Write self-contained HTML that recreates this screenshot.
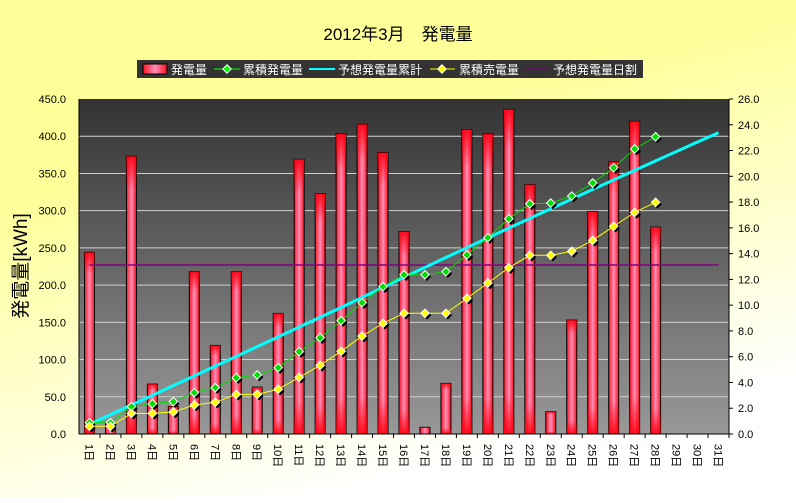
<!DOCTYPE html>
<html><head><meta charset="utf-8">
<style>
html,body{margin:0;padding:0;}
body{width:796px;height:498px;overflow:hidden;font-family:"Liberation Sans","Noto Sans CJK JP",sans-serif;}
</style></head>
<body>
<svg id="chart" width="796" height="498" xmlns="http://www.w3.org/2000/svg" style="font-family:'Liberation Sans','Noto Sans CJK JP',sans-serif">
<defs>
<linearGradient id="bgG" x1="0" y1="0" x2="0.4" y2="1">
<stop offset="0" stop-color="#ffff99"/><stop offset="0.35" stop-color="#ffff99"/><stop offset="1" stop-color="#ffffff"/>
</linearGradient>
<linearGradient id="plotG" x1="0" y1="0" x2="0" y2="1">
<stop offset="0" stop-color="#333333"/><stop offset="1" stop-color="#999999"/>
</linearGradient>
<linearGradient id="barG" x1="0" y1="0" x2="1" y2="0">
<stop offset="0" stop-color="#ff1020"/><stop offset="0.5" stop-color="#ff90b8"/><stop offset="1" stop-color="#ff1020"/>
</linearGradient>
<linearGradient id="barV" x1="0" y1="0" x2="0" y2="1">
<stop offset="0" stop-color="#ff0010" stop-opacity="0.9"/><stop offset="0.12" stop-color="#ff0010" stop-opacity="0"/><stop offset="0.88" stop-color="#ff0010" stop-opacity="0"/><stop offset="1" stop-color="#ff0010" stop-opacity="0.9"/>
</linearGradient>
</defs>
<rect x="0" y="0" width="796" height="498" fill="url(#bgG)"/>
<text x="398" y="40" text-anchor="middle" font-size="17" fill="#000">2012年3月　発電量</text>
<g>
<rect x="137" y="60" width="506" height="18" fill="#333"/>
<rect x="143" y="64" width="24" height="10" fill="url(#barG)" stroke="#000"/>
<text x="171" y="74" font-size="12" fill="#fff">発電量</text>
<line x1="214" y1="69" x2="240" y2="69" stroke="#00ff00"/><rect x="224" y="66" width="6" height="6" fill="#00ff00" stroke="#fff" transform="rotate(45 227 69)"/>
<text x="243" y="74" font-size="12" fill="#fff">累積発電量</text>
<line x1="309" y1="69" x2="335" y2="69" stroke="#00ffff" stroke-width="2"/>
<text x="338" y="74" font-size="12" fill="#fff">予想発電量累計</text>
<line x1="430" y1="69" x2="455" y2="69" stroke="#ffff00"/><rect x="439" y="66" width="6" height="6" fill="#ffff00" stroke="#fff" transform="rotate(45 442 69)"/>
<text x="459" y="74" font-size="12" fill="#fff">累積売電量</text>
<line x1="525" y1="69" x2="550" y2="69" stroke="#800080"/>
<text x="553" y="74" font-size="12" fill="#fff">予想発電量日割</text>
</g>
<rect x="79" y="99" width="650" height="335" fill="url(#plotG)"/>
<g id="grid"></g><g id="bars"></g><g id="lines"></g><g id="axes"></g>
<text transform="translate(27,266) rotate(-90)" text-anchor="middle" font-size="19" fill="#000">発電量[kWh]</text>
</svg>
<script>
const days = ["1日","2日","3日","4日","5日","6日","7日","8日","9日","10日","11日","12日","13日","14日","15日","16日","17日","18日","19日","20日","21日","22日","23日","24日","25日","26日","27日","28日","29日","30日","31日"];
const dailyKWh = [244,15,373,67,37,218,119,218,63,162,369,323,403,416,378,272,9,68,409,403,436,335,30,153,299,366,420,278];
const cumulativeGen = [0.88,0.88,2.12,2.35,2.51,3.21,3.6,4.37,4.58,5.15,6.39,7.47,8.8,10.19,11.43,12.36,12.36,12.6,13.9,15.24,16.71,17.87,17.92,18.47,19.48,20.67,22.12,23.07];
const cumulativeSold = [0.6,0.6,1.6,1.6,1.71,2.25,2.46,3.08,3.08,3.47,4.4,5.33,6.42,7.6,8.59,9.37,9.37,9.37,10.53,11.72,12.91,13.87,13.87,14.18,15.03,16.12,17.2,17.98];
const forecastCum = [0.75,1.5,2.25,3.0,3.76,4.51,5.27,6.02,6.78,7.54,8.3,9.06,9.82,10.6,11.38,12.16,12.93,13.7,14.46,15.22,15.98,16.73,17.48,18.23,18.98,19.72,20.46,21.2,21.93,22.66,23.38];
const forecastDaily = 227;
const leftTicks = ["0.0","50.0","100.0","150.0","200.0","250.0","300.0","350.0","400.0","450.0"];
const rightTicks = ["0.0","2.0","4.0","6.0","8.0","10.0","12.0","14.0","16.0","18.0","20.0","22.0","24.0","26.0"];
const L=79,R=729,T=99,B=434,NS="http://www.w3.org/2000/svg";
const leftMax=450,rightMax=26;
const step=(R-L)/days.length;
const xC=i=>L+step*(i+0.5);
const yL=v=>B-(v/leftMax)*(B-T);
const yR=v=>B-(v/rightMax)*(B-T);
function mk(tag,attrs,parent){const e=document.createElementNS(NS,tag);for(const k in attrs)e.setAttribute(k,attrs[k]);parent.appendChild(e);return e;}
const grid=document.getElementById('grid'),bars=document.getElementById('bars'),lines=document.getElementById('lines'),axes=document.getElementById('axes');
leftTicks.forEach((t,i)=>{const v=parseFloat(t);const y=yL(v);
 if(v>0&&v<leftMax){const g=mk('line',{x1:L,x2:R,y1:y,y2:y,stroke:'#d0d0d0','stroke-width':1},grid);
 
 }
 const tx=mk('text',{x:L-13,y:y+4,'text-anchor':'end','font-size':11,fill:'#000'},axes);tx.textContent=t;
 
 
});
rightTicks.forEach((t,i)=>{const y=yR(parseFloat(t));
 mk('line',{x1:R,x2:R+4,y1:y,y2:y,stroke:'#000'},axes);
 const tx=mk('text',{x:R+9,y:y+4,'font-size':11,fill:'#000'},axes);tx.textContent=t;
 
 
});
mk('line',{x1:L,x2:L,y1:T,y2:B,stroke:'#000'},axes);
mk('line',{x1:R,x2:R,y1:T,y2:B,stroke:'#000'},axes);
mk('line',{x1:L,x2:R,y1:B,y2:B,stroke:'#000'},axes);
days.forEach((d,i)=>{const x=L+step*(i+1);mk('line',{x1:x,x2:x,y1:B,y2:B+4,stroke:'#000'},axes);
 const tx=mk('text',{transform:`translate(${xC(i)-4},${B+10}) rotate(90)`,'font-size':11,fill:'#000'},axes);tx.textContent=d;
 
 
});
dailyKWh.forEach((v,i)=>{const w=10,x=xC(i)-w/2,y=yL(v),h=B-y;
 const b=mk('rect',{x:x,y:y,width:w,height:h,fill:'url(#barG)',stroke:'#000','stroke-width':1},bars);
 
 
 mk('rect',{x:x,y:y,width:w,height:h,fill:'url(#barV)'},bars);
});
// forecast daily line
const fd=mk('line',{x1:xC(0),x2:xC(days.length-1),y1:yL(forecastDaily),y2:yL(forecastDaily),stroke:'#800080','stroke-width':1.5},lines);


function series(vals,color,w,name,markers){
 const pts=vals.map((v,i)=>xC(i)+','+yR(v)).join(' ');
 const p=mk('polyline',{points:pts,fill:'none',stroke:color,'stroke-width':w},lines);
 
 
 if(markers){vals.forEach((v,i)=>{const x=xC(i),y=yR(v);
  mk('rect',{x:x-1,y:y-1,width:6,height:6,fill:'#000',transform:`rotate(45 ${x+2} ${y+2})`},lines);
  const m=mk('rect',{x:x-3,y:y-3,width:6,height:6,fill:color,stroke:'#fff','stroke-width':1,transform:`rotate(45 ${x} ${y})`},lines);
  
  
 });}
}
series(forecastCum,'#00ffff',3,'forecast-cumulative-line',false);
series(cumulativeGen,'#00dd00',1,'cumulative-generation-line',true);
series(cumulativeSold,'#ffff00',1,'cumulative-sold-line',true);
</script>
</body></html>
